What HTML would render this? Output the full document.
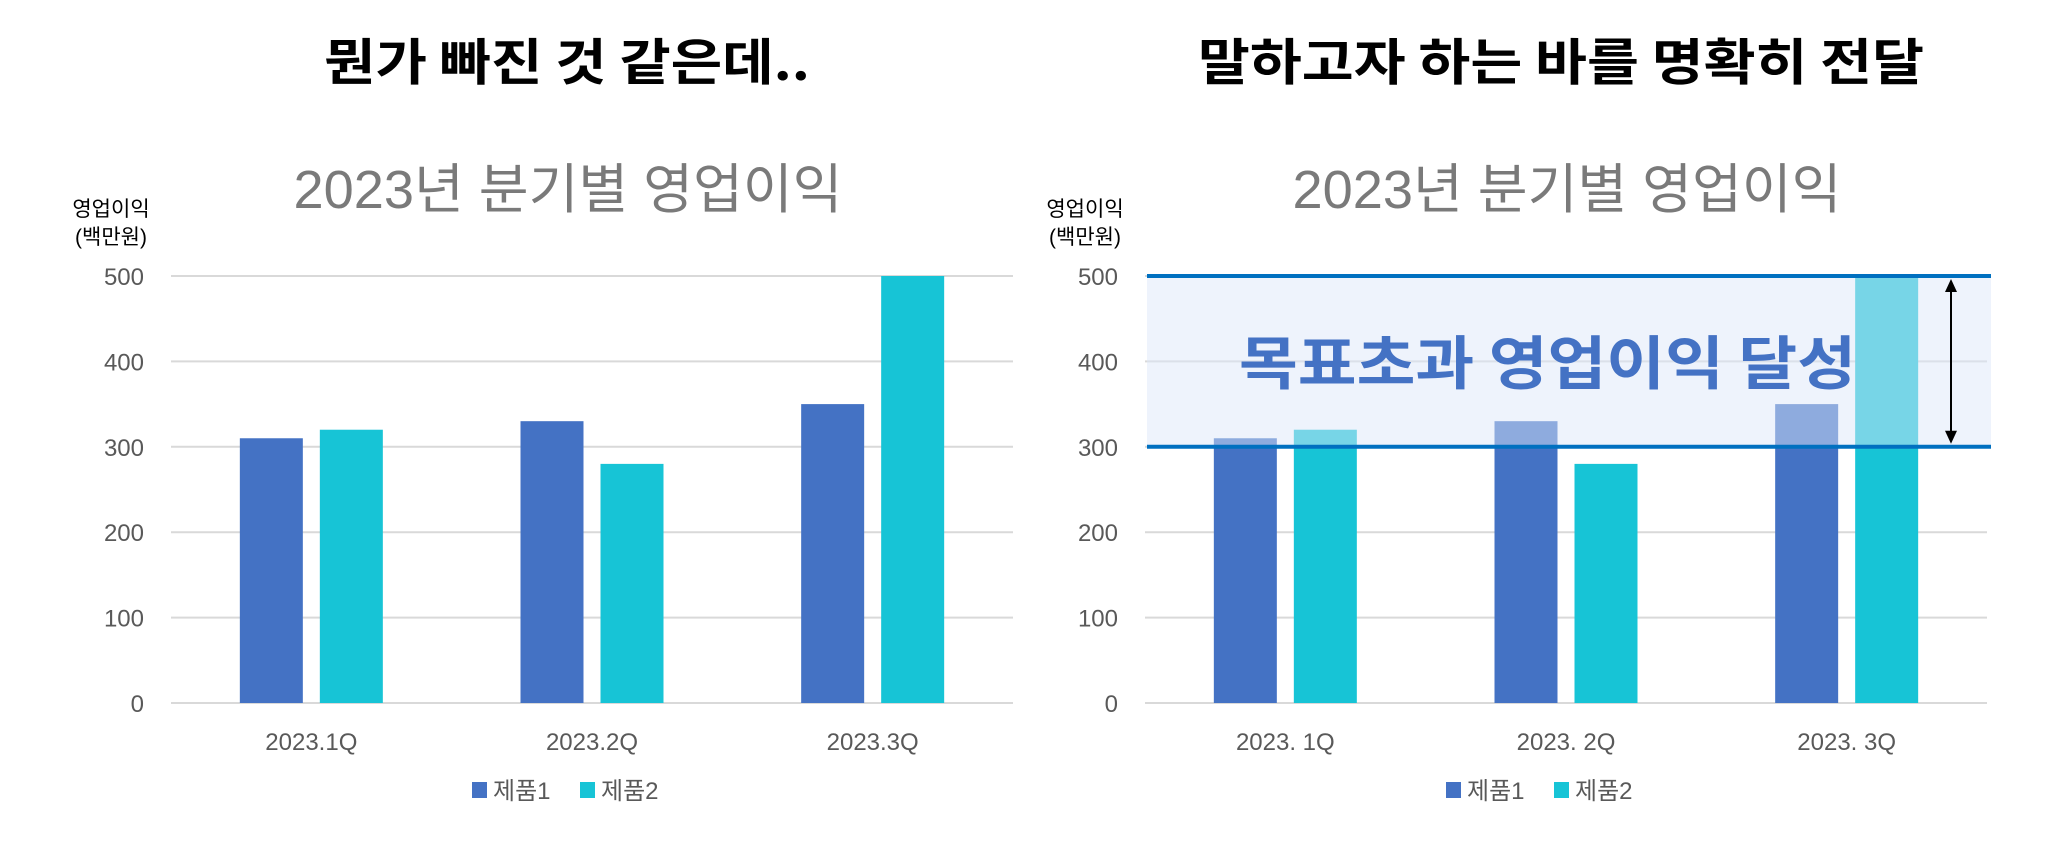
<!DOCTYPE html>
<html><head><meta charset="utf-8">
<style>
html,body{margin:0;padding:0;background:#fff;}
svg{display:block;font-family:"Liberation Sans","Noto Sans CJK KR",sans-serif;}
</style></head>
<body>
<svg id="root" width="2048" height="851" viewBox="0 0 2048 851" xmlns="http://www.w3.org/2000/svg">
  <rect width="2048" height="851" fill="#fff"/>
  <text x="567" y="80" text-anchor="middle" font-size="50" font-weight="bold" fill="#000" textLength="486" lengthAdjust="spacingAndGlyphs" style="font-family:'Noto Sans CJK KR',sans-serif">뭔가 빠진 것 같은데..</text>
  <text x="1561" y="80" text-anchor="middle" font-size="50" font-weight="bold" fill="#000" textLength="726" lengthAdjust="spacingAndGlyphs" style="font-family:'Noto Sans CJK KR',sans-serif">말하고자 하는 바를 명확히 전달</text>
  <g id="left"></g>
  <g id="right"></g>
</svg>
<script>
const categoriesLeft = ["2023.1Q", "2023.2Q", "2023.3Q"];
const categoriesRight = ["2023. 1Q", "2023. 2Q", "2023. 3Q"];
const seriesNames = ["제품1", "제품2"];
const product1 = [310, 330, 350];
const product2 = [320, 280, 500];
const yTicks = [0, 100, 200, 300, 400, 500];
const targetRange = [300, 500];
const colors = ["#4472C4", "#17C4D6"];
const NS = "http://www.w3.org/2000/svg";

function mk(parent, tag, attrs, text) {
  const e = document.createElementNS(NS, tag);
  for (const k in attrs) e.setAttribute(k, attrs[k]);
  if (text !== undefined) e.textContent = text;
  parent.appendChild(e);
  return e;
}

function drawChart(g, x0, cats, highlight, titleCx) {
  const plotL = x0, plotR = x0 + 842, top = 276, bottom = 703, yMax = 500;
  const y = v => bottom - (v / yMax) * (bottom - top);
  const band = (plotR - plotL) / cats.length;
  const xc = i => plotL + band * (i + 0.5);
  const bw = 63, gap = 17;

  const title = mk(g, "text", {x: titleCx, y: 208, "text-anchor": "middle", "font-size": 54, fill: "#7a7a7a", textLength: 549, lengthAdjust: "spacingAndGlyphs"}, "2023년 분기별 영업이익");
  
  

  const yt1 = mk(g, "text", {x: x0 - 60, y: 216, "text-anchor": "middle", "font-size": 21, fill: "#000"}, "영업이익");
  
  
  const yt2 = mk(g, "text", {x: x0 - 60, y: 244, "text-anchor": "middle", "font-size": 21, fill: "#000"}, "(백만원)");
  
  

  yTicks.forEach(t => {
    const gl = mk(g, "line", {x1: plotL, x2: plotR, y1: y(t), y2: y(t), stroke: "#d9d9d9", "stroke-width": 2});
    
    
    const lb = mk(g, "text", {x: x0 - 27, y: y(t) + 9, "text-anchor": "end", "font-size": 24, fill: "#595959"}, String(t));
    
    
  });

  const series = [product1, product2];
  series.forEach((vals, s) => {
    vals.forEach((v, i) => {
      const bx = s === 0 ? xc(i) - gap / 2 - bw : xc(i) + gap / 2;
      const r = mk(g, "rect", {x: bx, y: y(v), width: bw, height: bottom - y(v), fill: colors[s]});
      
      
    });
  });

  cats.forEach((c, i) => {
    const t = mk(g, "text", {x: xc(i), y: 750, "text-anchor": "middle", "font-size": 24, fill: "#595959"}, c);
    
    
  });

  if (highlight) {
    const y1 = y(targetRange[1]), y0 = y(targetRange[0]);
    const b = mk(g, "rect", {x: plotL + 2, y: y1, width: plotR - plotL + 2, height: y0 - y1, fill: "rgba(220,231,249,0.49)"});
    
    
    [y1, y0].forEach((yy, k) => {
      const l = mk(g, "line", {x1: plotL + 2, x2: plotR + 4, y1: yy, y2: yy, stroke: "#0070C0", "stroke-width": 4});
      
      
    });
    const ax = plotR - 36;
    const a = mk(g, "line", {x1: ax, x2: ax, y1: y1 + 14, y2: y0 - 14, stroke: "#000", "stroke-width": 2});
    
    
    const h1 = mk(g, "polygon", {points: `${ax},${y1+3} ${ax-6},${y1+16} ${ax+6},${y1+16}`, fill: "#000"});
    
    
    const h2 = mk(g, "polygon", {points: `${ax},${y0-3} ${ax-6},${y0-16} ${ax+6},${y0-16}`, fill: "#000"});
    
    
    const ann = mk(g, "text", {x: 1239, y: 384, "font-size": 58, "font-weight": "bold", fill: "#4472C4", textLength: 617, lengthAdjust: "spacingAndGlyphs", style: "font-family:'Noto Sans CJK KR',sans-serif"}, "목표초과 영업이익 달성");
    
    
  }

  const lx = plotL + 301;
  seriesNames.forEach((n, s) => {
    const sx = lx + s * 108;
    const sw = mk(g, "rect", {x: sx, y: 782, width: 15, height: 16, fill: colors[s]});
    
    
    const lt = mk(g, "text", {x: sx + 21, y: 799, "font-size": 24, fill: "#595959"}, n);
    
    
  });
}

drawChart(document.getElementById("left"), 171, categoriesLeft, false, 568);
drawChart(document.getElementById("right"), 1145, categoriesRight, true, 1567);
</script>
</body></html>
